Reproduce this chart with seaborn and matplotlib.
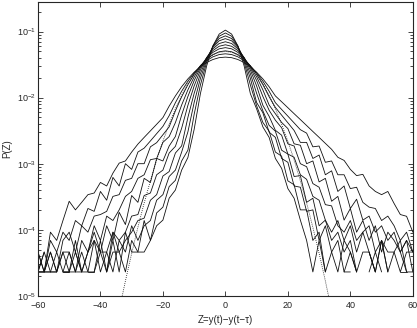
import numpy as np
import pandas as pd
import seaborn as sns
import matplotlib.pyplot as plt

nan = np.nan

# Z grid (bins) and the ten measured P(Z) curves, narrowest to widest
z = list(range(-60, 61, 2))

p_1 = [nan, nan, nan, nan, 2.3e-5, 2.3e-5, nan, nan, 2.3e-5, 2.3e-5,
       nan, 2.3e-5, 6.9e-5, 2.3e-5, 9.2e-5, 4.6e-5, 4.6e-5, 4.6e-5, 6.9e-5, 1.15e-4,
       1.4e-4, 3.0e-4, 4.0e-4, 8.0e-4, 1.24e-3, 3.3e-3, 0.01146, 0.0302, 0.0604, 0.0914,
       0.105,
       0.0914, 0.0604, 0.0302, 0.01146, 6.75e-3, 3.6e-3, 2.5e-3, 1.2e-3, 8.5e-4, 4.2e-4,
       3.0e-4, 1.4e-4, 6.9e-5, 2.3e-5, 6.9e-5, 2.3e-5, nan, nan, 2.3e-5, 4.6e-5,
       2.3e-5, nan, nan, nan, nan, nan, nan, nan, nan, nan]

p_2 = [2.3e-5, 2.3e-5, 2.3e-5, 2.3e-5, 4.6e-5, 2.3e-5, 2.3e-5, 4.6e-5, 2.3e-5, 2.3e-5,
       6.9e-5, 2.3e-5, 4.6e-5, 4.6e-5, 2.3e-5, 6.9e-5, 4.6e-5, 1.38e-4, 6.9e-5, 1.8e-4,
       2.2e-4, 4.5e-4, 5.6e-4, 1.1e-3, 1.6e-3, 5.58e-3, 0.0155, 0.0343, 0.0604, 0.0849,
       0.095,
       0.0849, 0.0604, 0.0343, 0.0155, 7.52e-3, 4.2e-3, 3.1e-3, 1.5e-3, 1.3e-3, 5.5e-4,
       4.8e-4, 2.0e-4, 2.0e-4, 6.9e-5, 9.2e-5, 2.3e-5, 4.6e-5, 6.9e-5, 2.3e-5, 2.3e-5,
       nan, nan, 2.3e-5, 4.6e-5, 2.3e-5, nan, nan, nan, nan, nan]

p_3 = [2.3e-5, 4.6e-5, nan, nan, 2.3e-5, 2.3e-5, 4.6e-5, 2.3e-5, nan, 2.3e-5,
       4.6e-5, 4.6e-5, 2.3e-5, 6.9e-5, 4.6e-5, 1.15e-4, 6.9e-5, 1.15e-4, 1.38e-4, 2.8e-4,
       3.4e-4, 6.4e-4, 8.0e-4, 1.5e-3, 3.03e-3, 8.43e-3, 0.0195, 0.0372, 0.0593, 0.0783,
       0.086,
       0.0783, 0.0593, 0.0372, 0.0195, 8.43e-3, 5.9e-3, 3.0e-3, 2.5e-3, 1.2e-3, 1.05e-3,
       4.6e-4, 4.4e-4, 1.9e-4, 2.0e-4, 6.9e-5, 1.15e-4, 4.6e-5, 2.3e-5, 6.9e-5, 4.6e-5,
       2.3e-5, nan, 4.6e-5, 2.3e-5, nan, nan, nan, 2.3e-5, 2.3e-5, nan]

p_4 = [2.3e-5, 2.3e-5, 4.6e-5, 2.3e-5, nan, nan, 4.6e-5, 2.3e-5, 2.3e-5, 6.9e-5,
       4.6e-5, 2.3e-5, 9.2e-5, 4.6e-5, 6.9e-5, 9.2e-5, 1.38e-4, 1.5e-4, 2.8e-4, 3.4e-4,
       6.5e-4, 7.6e-4, 1.45e-3, 1.86e-3, 5.01e-3, 0.0116, 0.023, 0.0393, 0.0575, 0.0723,
       0.078,
       0.0723, 0.0575, 0.0393, 0.023, 0.0116, 6.3e-3, 3.8e-3, 3.1e-3, 1.6e-3, 1.4e-3,
       6.4e-4, 6.6e-4, 2.6e-4, 3.0e-4, 1.15e-4, 1.4e-4, 6.9e-5, 9.2e-5, 4.6e-5, 6.9e-5,
       2.3e-5, 4.6e-5, 4.6e-5, 2.3e-5, 6.9e-5, 2.3e-5, nan, 4.6e-5, 2.3e-5, nan]

p_5 = [4.6e-5, 2.3e-5, 2.3e-5, nan, 2.3e-5, 4.6e-5, 2.3e-5, 2.3e-5, 4.6e-5, 6.9e-5,
       2.3e-5, 4.6e-5, 9.2e-5, 6.9e-5, 9.2e-5, 1.61e-4, 1.7e-4, 3.3e-4, 3.6e-4, 6.8e-4,
       8.0e-4, 1.45e-3, 1.83e-3, 3.44e-3, 7.64e-3, 0.015, 0.0261, 0.0403, 0.0547, 0.0658,
       0.070,
       0.0658, 0.0547, 0.0403, 0.0261, 0.015, 7.64e-3, 5.21e-3, 3.2e-3, 2.7e-3, 1.4e-3,
       1.25e-3, 6.8e-4, 5.8e-4, 3.2e-4, 2.8e-4, 1.4e-4, 9.2e-5, 1.38e-4, 6.9e-5, 1.15e-4,
       4.6e-5, 9.2e-5, 4.6e-5, 2.3e-5, 6.9e-5, 4.6e-5, 4.6e-5, 2.3e-5, 4.6e-5, 4.6e-5]

p_6 = [nan, nan, 2.3e-5, 4.6e-5, 2.3e-5, 2.3e-5, 6.9e-5, 2.3e-5, 4.6e-5, 9.2e-5,
       4.6e-5, 1.15e-4, 6.9e-5, 1.84e-4, 1.2e-4, 3.3e-4, 2.6e-4, 6.0e-4, 5.2e-4, 1.2e-3,
       1.1e-3, 1.85e-3, 2.58e-3, 5.46e-3, 0.0104, 0.0181, 0.0283, 0.0402, 0.0515, 0.0598,
       0.063,
       0.0598, 0.0515, 0.0402, 0.0283, 0.0181, 0.0104, 6.43e-3, 4.55e-3, 3.5e-3, 2.0e-3,
       1.85e-3, 1.0e-3, 9.0e-4, 5.0e-4, 4.4e-4, 2.4e-4, 2.3e-4, 1.15e-4, 9.2e-5, 1.38e-4,
       6.9e-5, 9.2e-5, 1.15e-4, 4.6e-5, 6.9e-5, 2.3e-5, 4.6e-5, 6.9e-5, 2.3e-5, 2.3e-5]

p_7 = [2.3e-5, 4.6e-5, 2.3e-5, 2.3e-5, 4.6e-5, 4.6e-5, 2.3e-5, 6.9e-5, 4.6e-5, 1.15e-4,
       6.9e-5, 1.61e-4, 1.38e-4, 2.0e-4, 3.2e-4, 3.8e-4, 6.0e-4, 6.8e-4, 1.15e-3, 1.2e-3,
       2.1e-3, 2.57e-3, 4.19e-3, 7.73e-3, 0.0131, 0.0206, 0.0296, 0.0395, 0.0484, 0.0547,
       0.057,
       0.0547, 0.0484, 0.0395, 0.0296, 0.0206, 0.0131, 7.73e-3, 5.7e-3, 4.21e-3, 3.4e-3,
       2.0e-3, 1.9e-3, 1.0e-3, 1.1e-3, 5.3e-4, 6.0e-4, 2.7e-4, 3.2e-4, 1.4e-4, 2.1e-4,
       9.2e-5, 1.38e-4, 6.9e-5, 1.15e-4, 4.6e-5, 9.2e-5, 6.9e-5, 4.6e-5, 6.9e-5, 2.3e-5]

p_8 = [nan, 2.3e-5, 4.6e-5, 2.3e-5, 6.9e-5, 9.2e-5, 4.6e-5, 1.15e-4, 9.2e-5, 1.61e-4,
       1.7e-4, 1.9e-4, 3.2e-4, 3.4e-4, 5.6e-4, 6.0e-4, 1.0e-3, 1.0e-3, 1.8e-3, 2.08e-3,
       2.74e-3, 3.61e-3, 6.3e-3, 0.0103, 0.0157, 0.0225, 0.0303, 0.038, 0.0448, 0.0494,
       0.051,
       0.0494, 0.0448, 0.038, 0.0303, 0.0225, 0.0157, 0.0103, 7.1e-3, 5.43e-3, 4.16e-3,
       3.18e-3, 2.1e-3, 2.1e-3, 1.2e-3, 1.35e-3, 6.8e-4, 7.8e-4, 3.8e-4, 4.6e-4, 2.1e-4,
       2.9e-4, 1.4e-4, 1.61e-4, 9.2e-5, 1.15e-4, 6.9e-5, 9.2e-5, 4.6e-5, 6.9e-5, 4.6e-5]

p_9 = [4.6e-5, 2.3e-5, 6.9e-5, 4.6e-5, 9.2e-5, 6.9e-5, 1.38e-4, 1.15e-4, 2.1e-4, 1.9e-4,
       3.8e-4, 2.8e-4, 6.2e-4, 4.6e-4, 1.0e-3, 8.2e-4, 1.5e-3, 1.72e-3, 2.21e-3, 2.85e-3,
       3.67e-3, 5.33e-3, 8.38e-3, 0.0125, 0.0177, 0.0237, 0.0301, 0.0362, 0.0414, 0.0448,
       0.046,
       0.0448, 0.0414, 0.0362, 0.0301, 0.0237, 0.0177, 0.0125, 8.38e-3, 6.62e-3, 5.24e-3,
       4.14e-3, 3.27e-3, 2.9e-3, 1.8e-3, 1.85e-3, 1.05e-3, 1.1e-3, 6.8e-4, 6.8e-4, 4.2e-4,
       4.4e-4, 2.6e-4, 2.2e-4, 2.1e-4, 1.38e-4, 1.61e-4, 1.15e-4, 6.9e-5, 9.2e-5, 4.6e-5]

p_10 = [2.3e-5, 2.3e-5, 9.2e-5, 6.9e-5, 1.38e-4, 2.7e-4, 2.0e-4, 2.6e-4, 3.4e-4, 3.6e-4,
        5.2e-4, 4.6e-4, 7.2e-4, 1.02e-3, 1.1e-3, 1.5e-3, 1.98e-3, 2.5e-3, 3.14e-3, 3.95e-3,
        4.98e-3, 7.43e-3, 0.0106, 0.0146, 0.0192, 0.0242, 0.0292, 0.034, 0.0377, 0.0402,
        0.041,
        0.0402, 0.0377, 0.034, 0.0292, 0.0242, 0.0192, 0.0146, 0.0106, 8.65e-3, 7.03e-3,
        5.71e-3, 4.65e-3, 3.78e-3, 3.07e-3, 2.5e-3, 2.03e-3, 1.65e-3, 1.25e-3, 1.12e-3, 8.2e-4,
        6.6e-4, 6.9e-4, 4.6e-4, 3.8e-4, 3.4e-4, 3.8e-4, 2.5e-4, 1.7e-4, 1.6e-4, 9.2e-5]

# dotted reference curve
z_gauss = list(range(-34, 35, 2))
p_gauss = [6.0e-6, 1.68e-5, 4.4e-5, 1.09e-4, 2.54e-4, 5.5e-4, 1.14e-3, 2.19e-3, 3.97e-3,
           6.76e-3, 0.0108, 0.0162, 0.0229, 0.0303, 0.0377, 0.044, 0.0484,
           0.0499,
           0.0484, 0.044, 0.0377, 0.0303, 0.0229, 0.0162, 0.0108, 6.76e-3, 3.97e-3,
           2.19e-3, 1.14e-3, 5.5e-4, 2.54e-4, 1.09e-4, 4.4e-5, 1.68e-5, 6.0e-6]

curves = [p_1, p_2, p_3, p_4, p_5, p_6, p_7, p_8, p_9, p_10]

# long table, one unit per unbroken run of bins (empty bins break the line)
rows = []
seg = 0
for p in curves:
    inside = False
    for zi, pi in zip(z, p):
        if np.isnan(pi):
            inside = False
            continue
        if not inside:
            seg += 1
            inside = True
        rows.append((zi, pi, seg))
df = pd.DataFrame(rows, columns=['Z', 'P', 'seg'])

sns.set_style('ticks')
plt.rcParams['font.family'] = ['Liberation Sans', 'DejaVu Sans']
plt.rcParams['mathtext.fontset'] = 'custom'
plt.rcParams['mathtext.rm'] = 'Liberation Sans'
plt.rcParams['mathtext.it'] = 'Liberation Sans'

fig = plt.figure(figsize=(4.17, 3.28), dpi=100)
ax = fig.add_axes([0.091, 0.098, 0.899, 0.896])

sns.lineplot(data=df, x='Z', y='P', units='seg', estimator=None,
             color='#111111', lw=0.6, ax=ax, legend=False)
sns.lineplot(x=z_gauss, y=p_gauss, estimator=None, color='#111111', lw=0.6,
             linestyle=(0, (1, 1.5)), ax=ax)

ax.set_yscale('log')
ax.set_xlim(-60, 60)
ax.set_ylim(1e-5, 0.28)
ax.set_xticks([-60, -40, -20, 0, 20, 40, 60])
ax.set_yticks([1e-5, 1e-4, 1e-3, 1e-2, 1e-1])

ax.tick_params(which='both', direction='in', top=True, right=True,
               width=0.6, labelsize=6.5)
ax.tick_params(axis='x', pad=4)
ax.tick_params(axis='y', pad=1.5)
ax.tick_params(which='major', length=3.5)
ax.tick_params(which='minor', length=2)
for s in ax.spines.values():
    s.set_linewidth(0.8)

ax.set_xlabel('Z=y(t)\u2212y(t\u2212\u03c4)', fontsize=7, labelpad=3)
ax.set_ylabel('P(Z)', fontsize=7, labelpad=3)

plt.savefig('out.png', dpi=100)
